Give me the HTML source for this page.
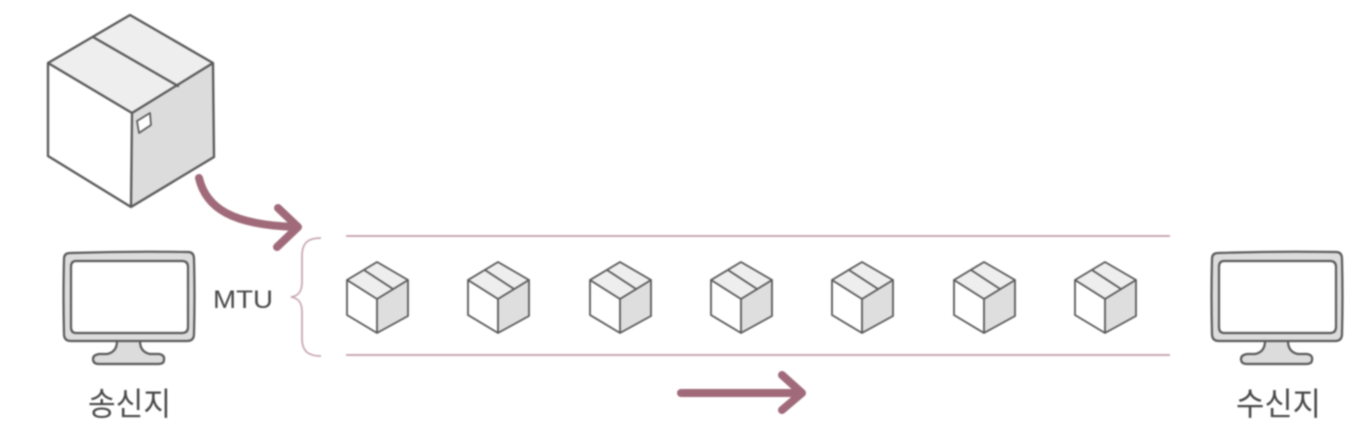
<!DOCTYPE html>
<html lang="ko">
<head>
<meta charset="utf-8">
<title>MTU diagram</title>
<style>
html,body{margin:0;padding:0;background:#fff;width:1354px;height:428px;overflow:hidden}
svg{display:block}
.soft{filter:blur(.7px)}
.ln{stroke:#5a5a5a;stroke-linejoin:round;stroke-linecap:round}
text{fill:#484848}
</style>
</head>
<body>
<svg width="1354" height="428" viewBox="0 0 1354 428" xmlns="http://www.w3.org/2000/svg">
<defs>
<g id="pkt">
<path d="M0 -36 L31 -18 L31 18 L0 35 L-30 17 L-30 -18Z" fill="#fff"/>
<path d="M0 -36 L31 -18 L0 1 L-30 -18Z" fill="#eeeeee"/>
<path d="M31 -18 L31 18 L0 35 L0 1Z" fill="#dedede"/>
<path class="ln" stroke-width="1.8" fill="none" d="M0 -36 L31 -18 L31 18 L0 35 L-30 17 L-30 -18Z M-30 -18 L0 1 L31 -18 M0 1 L0 35 M-13 -28 L16 -9"/>
</g>
<g id="mon">
<path d="M70 253 Q128 251 188 252 Q194 252 194 259 Q195 296 194 334 Q194 341 187 341 L71 341 Q64 341 64 334 Q63 296 64 259 Q64 253 70 253Z" fill="#dcdcdc"/>
<path d="M76 261 L182 261 Q188 261 188 267 L188 327 Q188 333 182 333 L76 333 Q71 333 71 327 L71 267 Q71 261 76 261Z" fill="#fff"/>
<path d="M117 341 L140 341 Q140 352 150 354 L159 354 Q165 355 164 360 Q164 364 158 364 L99 364 Q93 364 93 359 Q93 355 99 354 L107 354 Q117 352 117 341Z" fill="#dcdcdc"/>
<g class="ln" fill="none" stroke-width="2.2">
<path d="M70 253 Q128 251 188 252 Q194 252 194 259 Q195 296 194 334 Q194 341 187 341 L71 341 Q64 341 64 334 Q63 296 64 259 Q64 253 70 253Z"/>
<path d="M76 261 L182 261 Q188 261 188 267 L188 327 Q188 333 182 333 L76 333 Q71 333 71 327 L71 267 Q71 261 76 261Z"/>
<path d="M117 341 Q117 352 107 354 L99 354 Q93 355 93 359 Q93 364 99 364 L158 364 Q164 364 164 360 Q165 355 159 354 L150 354 Q140 352 140 341"/>
</g>
</g>
</defs>

<rect width="1354" height="428" fill="#ffffff"/>

<g class="soft">
<g>
<path d="M130 15 L213 63 L213 157 L131 207 L48 156 L48 63Z" fill="#fff"/>
<path d="M130 15 L213 63 L132 113 L48 63Z" fill="#eeeeee"/>
<path d="M213 63 L213 157 L131 207 L132 113Z" fill="#dcdcdc"/>
<path class="ln" stroke-width="2.3" fill="none" d="M130 15 L213 63 L214 157 L131 207 L48 156 L48 63Z M48 63 L132 113 L213 63 M132 113 L131 207 M93 37 L178 86"/>
<path class="ln" stroke-width="1.7" fill="#fff" d="M137 121 L150 113 L151 125 L139 133Z"/>
</g>

<path d="M199 178 C206 208 232 225 296 227 M278 208 L298 227 L277 247" fill="none" stroke="#a06a7a" stroke-width="8" stroke-linecap="round" stroke-linejoin="round"/>

<use href="#mon"/>
<use href="#mon" x="1148"/>

<text x="213" y="308" font-family="Liberation Sans, sans-serif" font-size="25" textLength="60" lengthAdjust="spacingAndGlyphs">MTU</text>

<path d="M321 238 C309 238 302 242 302 256 L302 282 C302 292 298 296 291 297 C298 298 302 302 302 312 L302 338 C302 352 309 356 321 356" fill="none" stroke="#c9a9b3" stroke-width="1.8"/>
<line x1="346" y1="236" x2="1170" y2="236" stroke="#c9a9b3" stroke-width="2"/>
<line x1="346" y1="355" x2="1170" y2="355" stroke="#c9a9b3" stroke-width="2"/>

<use href="#pkt" x="377" y="298"/>
<use href="#pkt" x="498" y="298"/>
<use href="#pkt" x="620" y="298"/>
<use href="#pkt" x="741" y="298"/>
<use href="#pkt" x="862" y="298"/>
<use href="#pkt" x="984" y="298"/>
<use href="#pkt" x="1105" y="298"/>

<path d="M681 393 L802 393 M782 375 L802 393 L782 410" fill="none" stroke="#a06a7a" stroke-width="8" stroke-linecap="round" stroke-linejoin="round"/>

<text x="88" y="415" font-family="Liberation Sans, 'Noto Sans CJK KR', NanumGothic, sans-serif" font-size="32" textLength="83" lengthAdjust="spacingAndGlyphs">송신지</text>
<text x="1236" y="415" font-family="Liberation Sans, 'Noto Sans CJK KR', NanumGothic, sans-serif" font-size="32" textLength="85" lengthAdjust="spacingAndGlyphs">수신지</text>
</g>
</svg>
</body>
</html>
